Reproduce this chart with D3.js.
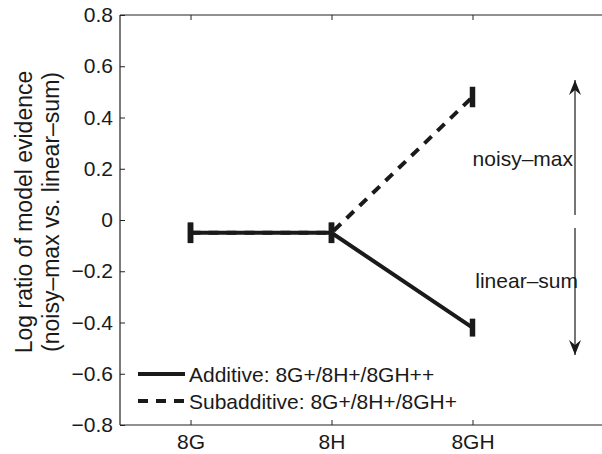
<!DOCTYPE html>
<html>
<head>
<meta charset="utf-8">
<script src="https://cdn.jsdelivr.net/npm/d3@7"></script>
<style>
  body { margin: 0; background: #fff; }
  text { font-family: "Liberation Sans", Arial, sans-serif; fill: #1a1a1a; }
</style>
</head>
<body>
<div id="root"></div>
<script>
const categories = ["8G", "8H", "8GH"];
const additive = [-0.05, -0.05, -0.42];
const additiveErr = [0.04, 0.04, 0.035];
const subadditive = [-0.05, -0.05, 0.48];
const subadditiveErr = [0.04, 0.04, 0.04];
const yTicks = [-0.8, -0.6, -0.4, -0.2, 0, 0.2, 0.4, 0.6, 0.8];
const legendLabels = ["Additive: 8G+/8H+/8GH++", "Subadditive: 8G+/8H+/8GH+"];

const w = 602, h = 454;
const plotLeft = 120, plotTop = 15, plotBottom = 425;
const fs = "21px";

const svg = d3.select("#root").append("svg")
  .attr("width", w).attr("height", h);

// x runs 0.5 .. 4 in category units, right edge falls outside the picture
const x = d3.scaleLinear().domain([0.5, 4]).range([plotLeft, plotLeft + 3.5 * 141]);
const y = d3.scaleLinear().domain([-0.8, 0.8]).range([plotBottom, plotTop]);
const xPos = i => x(i + 1);

// axes box (top + bottom + left, right side cropped)
const axisColor = "#222";
svg.append("line").attr("x1", plotLeft).attr("x2", w).attr("y1", plotTop).attr("y2", plotTop)
  .attr("stroke", axisColor).attr("stroke-width", 1.2);
svg.append("line").attr("x1", plotLeft).attr("x2", w).attr("y1", plotBottom).attr("y2", plotBottom)
  .attr("stroke", axisColor).attr("stroke-width", 1.2);
svg.append("line").attr("x1", plotLeft).attr("x2", plotLeft).attr("y1", plotTop).attr("y2", plotBottom)
  .attr("stroke", axisColor).attr("stroke-width", 1.2);

// y ticks (inward) + labels
const yAxis = d3.axisLeft(y).tickValues(yTicks).tickSizeInner(-5).tickSizeOuter(0)
  .tickPadding(7).tickFormat(d => d === 0 ? "0" : d3.format(".1f")(d));
const gy = svg.append("g").attr("transform", `translate(${plotLeft},0)`).call(yAxis);
gy.select(".domain").remove();
gy.selectAll(".tick line").attr("stroke", axisColor);
gy.selectAll(".tick text").style("font-size", fs);

// x ticks (inward, bottom and top) + labels
const xAxis = d3.axisBottom(x).tickValues([1, 2, 3]).tickSizeInner(-5).tickSizeOuter(0)
  .tickPadding(9).tickFormat(d => categories[d - 1]);
const gx = svg.append("g").attr("transform", `translate(0,${plotBottom})`).call(xAxis);
gx.select(".domain").remove();
gx.selectAll(".tick line").attr("stroke", axisColor);
gx.selectAll(".tick text").style("font-size", fs);
const gxt = svg.append("g").attr("transform", `translate(0,${plotTop})`)
  .call(d3.axisTop(x).tickValues([1, 2, 3]).tickSizeInner(-5).tickSizeOuter(0).tickFormat(""));
gxt.select(".domain").remove();
gxt.selectAll(".tick line").attr("stroke", axisColor);

// y label
const yl = svg.append("text")
  .attr("transform", "translate(32,212) rotate(-90)")
  .attr("text-anchor", "middle").style("font-size", "23px");
yl.append("tspan").attr("x", 0).attr("dy", 0).text("Log ratio of model evidence");
yl.append("tspan").attr("x", 0).attr("dy", 27).text("(noisy\u2013max vs. linear\u2013sum)");

// series
const lineGen = d3.line().x((d, i) => xPos(i)).y(d => y(d));
const series = [
  { vals: additive, err: additiveErr, dash: null },
  { vals: subadditive, err: subadditiveErr, dash: "10,8" }
];
series.forEach(s => {
  svg.append("path").datum(s.vals)
    .attr("d", lineGen)
    .attr("fill", "none").attr("stroke", "#1a1a1a").attr("stroke-width", 4)
    .attr("stroke-dasharray", s.dash);
  s.vals.forEach((v, i) => {
    svg.append("line")
      .attr("x1", xPos(i)).attr("x2", xPos(i))
      .attr("y1", y(v - s.err[i])).attr("y2", y(v + s.err[i]))
      .attr("stroke", "#1a1a1a").attr("stroke-width", 5.5);
  });
});

// annotation arrows
const ax = 575;
function arrow(y1, y2) {
  svg.append("line").attr("x1", ax).attr("x2", ax).attr("y1", y1).attr("y2", y2)
    .attr("stroke", "#1a1a1a").attr("stroke-width", 1.2);
  const dir = y2 < y1 ? 1 : -1;
  svg.append("path")
    .attr("d", `M${ax},${y2} L${ax - 6},${y2 + dir * 15} L${ax},${y2 + dir * 10} L${ax + 6},${y2 + dir * 15} Z`)
    .attr("fill", "#1a1a1a");
}
arrow(y(0.02), y(0.546));
arrow(y(-0.031), y(-0.527));

svg.append("text").attr("x", 573).attr("y", 165.5)
  .attr("text-anchor", "end").style("font-size", fs).text("noisy\u2013max");
svg.append("text").attr("x", 578).attr("y", 287.5)
  .attr("text-anchor", "end").style("font-size", fs).text("linear\u2013sum");

// legend
const legend = svg.append("g");
legendLabels.forEach((lab, i) => {
  const ly = 374 + i * 27;
  legend.append("line").attr("x1", 138).attr("x2", 185).attr("y1", ly).attr("y2", ly)
    .attr("stroke", "#1a1a1a").attr("stroke-width", 4)
    .attr("stroke-dasharray", series[i].dash);
  legend.append("text").attr("x", 189).attr("y", ly + 7.5)
    .style("font-size", fs).text(lab);
});
</script>
</body>
</html>
